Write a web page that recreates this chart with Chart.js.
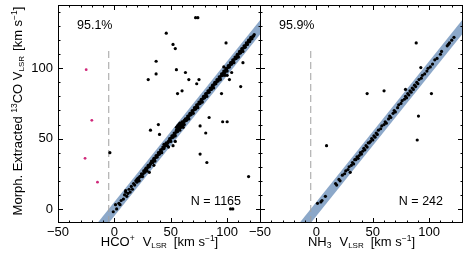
<!DOCTYPE html>
<html>
<head>
<meta charset="utf-8">
<script src="https://cdn.jsdelivr.net/npm/chart.js@4.4.1/dist/chart.umd.min.js"></script>
<style>
  html, body { margin: 0; padding: 0; background: #fff; }
  #wrap { position: relative; width: 464px; height: 262px; overflow: hidden; }
  canvas { position: absolute; top: 0; }
  #hco { left: 0; }
  #nh3 { left: 231px; }
</style>
</head>
<body>
<div id="wrap">
  <canvas id="hco" width="262" height="262"></canvas>
  <canvas id="nh3" width="233" height="262"></canvas>
</div>
<script>
// axes
const xRange = [-50, 130];
const yRange = [-10, 145];
const xTicks = [-50, 0, 50, 100];
const yTicks = [0, 50, 100];
const xMinor = [-40, -30, -20, -10, 10, 20, 30, 40, 60, 70, 80, 90, 110, 120];
const yMinor = [10, 20, 30, 40, 60, 70, 80, 90, 110, 120, 130, 140];

// agreement band (|dv| < bandHalf) and the dashed marker
const bandHalf = 5;
const bandX = [-60, 160];
const dashX = -5;
const dashY = [-10, 115];

// HCO+ panel: points along the 1:1 line
const hcoLine = [
  [-1,-2],[1,3],[2,0],[4,4],[5,3],[6,6],[8,7],[9,10],[10,12],[11,9],[12,11],[13,14],[14,12],[15,16],
  [16,14],[17,18],[18,17],[19,20],[20,19],[20,21],[21,22],[22,20],[23,23],[24,25],[25,23],[26,27],
  [27,26],[28,29],[29,27],[30,31],[31,30],[32,32],[33,34],[34,33],[35,36],[36,34],[37,38],[38,37],
  [39,40],[40,39],[41,42],[42,40],[43,44],[44,43],[44,46],[45,45],[46,47],[47,45],[48,48],[49,50],
  [50,48],[51,52],[52,51],[53,54],[54,52],[55,56],[55,58],[56,55],[56,59],[57,57],[57,60],[58,56],
  [58,61],[59,58],[59,60],[60,59],[60,62],[61,61],[61,58],[62,63],[62,60],[63,64],[64,63],[65,66],
  [66,64],[67,68],[68,67],[69,70],[70,68],[71,72],[72,71],[73,74],[74,72],[75,76],[76,75],[77,78],
  [78,76],[79,80],[80,79],[81,82],[82,80],[83,84],[84,83],[85,86],[86,85],[87,88],[88,86],[89,90],
  [90,89],[91,92],[92,91],[93,94],[94,92],[95,96],[96,95],[97,98],[98,97],[99,100],[100,98],[101,102],
  [102,101],[103,104],[104,103],[105,106],[106,104],[107,108],[108,107],[109,110],[110,108],[111,112],
  [112,111],[113,114],[114,112],[115,116],[116,115],[117,118],[118,117],[119,120],[120,119],[121,122],
  [122,121],[124,124],[35,31],[48,44],[54,48],[10,13],[100,95],[104,97],[97,101],
  [20.5,20],[21.5,21.5],[22.5,23],[23.5,23],[24.5,24.5],[25.5,25],[26.5,26.5],[27.5,28],[28.5,28],
  [29.5,29.5],[30.5,30],[31.5,31.5],[32.5,33],[33.5,33],[34.5,34.5],[35.5,35],[36.5,36.5],[37.5,37],
  [38.5,38.5],[39.5,39],[40.5,40.5],[41.5,41],[42.5,42.5],[43.5,43],[44.5,44.5],[45.5,45],[46.5,46.5],
  [47.5,47],[48.5,48.5],[49.5,49],[50.5,50.5],[51.5,51],[52.5,52.5],[53.5,53],[54.5,54.5],[55.5,55],
  [56.5,57],[57.5,58.5],[58.5,58],[59.5,59.5],[60.5,60],[61.5,62],[62.5,62.5],[63.5,63],[64.5,64.5],
  [65.5,65],[66.5,66.5],[67.5,67],[68.5,68.5],[69.5,69],[70.5,70.5],[71.5,71],[72.5,72.5],[73.5,73],
  [74.5,74.5],[75.5,75],[76.5,76.5],[77.5,77],[78.5,78.5],[79.5,79],[80.5,80.5],[81.5,81],[82.5,82.5],
  [83.5,83],[84.5,84.5],[85.5,85],[86.5,86.5],[87.5,87],[88.5,88.5],[89.5,89],[90.5,90.5],[91.5,91],
  [92.5,92.5],[93.5,93],[94.5,94.5],[95.5,95],[96.5,96.5],[97.5,97],[98.5,98.5],[99.5,99],[100.5,100.5],
  [101.5,101],[102.5,102.5],[103.5,103],[104.5,104.5],[105.5,105],[106.5,106.5],[107.5,107],
  [108.5,108.5],[109.5,109],[110.5,110.5],[111.5,111],[112.5,112.5],[113.5,113],[114.5,114.5],
  [115.5,115],[116.5,116.5],[117.5,117],[118.5,118.5],[119.5,119],[120.5,120.5],[121.5,121],
  [122.5,122.5],[123.5,123]
];
// HCO+ panel: discrepant points
const hcoOff = [
  [72,136],[74,136],[46,125],[52,117],[54,114],[99,118],[37,105],[30,92],[37,96],[55,99],[63,97],
  [66,92],[60,84],[56,82],[73,89],[75,92],[102,92],[98,95],[112,87],[95,82],[76,59],[76,39],[82,33],
  [81,54],[84,65],[96,62],[100,62],[32,56],[39,60],[40,53],[31,26],[-4,40],[103,0],[105,0],[114,104],
  [119,23],[52,45]
];
// HCO+ panel: points left of the dashed line
const hcoNeg = [[-25,99],[-20,63],[-26,36],[-15,19]];

// NH3 panel
const nh3Line = [
  [1,4],[4,5],[5,6],[8,9],[17,18],[18,17],[20,21],[21,20],[23,24],[25,25],[26,27],[28,28],[29,30],
  [31,31],[32,33],[33,32],[34,35],[35,35],[36,37],[37,36],[38,38],[39,40],[40,39],[41,41],[42,43],
  [43,42],[44,45],[45,44],[46,47],[47,47],[48,48],[49,50],[50,49],[51,52],[52,51],[53,54],[54,53],
  [55,56],[57,57],[58,59],[60,60],[61,62],[62,61],[64,64],[65,66],[66,65],[68,68],[69,70],[70,69],
  [72,72],[73,74],[75,75],[76,77],[78,78],[79,80],[80,79],[81,82],[82,81],[83,84],[84,83],[85,86],
  [86,85],[87,88],[88,87],[89,90],[90,89],[91,92],[93,93],[94,95],[96,96],[98,98],[99,100],[101,101],
  [103,103],[105,106],[107,107],[110,110],[111,112],[116,116],[117,117],[118,118],[120,120],[122,122]
];
const nh3Off = [[9,45],[45,82],[60,84],[79,85],[88.5,118],[92.6,100.5],[102,82],[90.5,66],[89.4,49],[30,26]];

const FONT = '"Liberation Sans", Arial, Helvetica, sans-serif';
const BAND = '#8ca8c9';
const PINK = '#d0287a';

function pts(list) {
  return list.map(p => ({ x: p[0], y: p[1] }));
}

// draws text made of pieces of different size / offset (sub- and superscripts)
function drawRich(ctx, segs, cx, baseY) {
  let total = 0;
  segs.forEach(s => {
    ctx.font = s.size + 'px ' + FONT;
    s.w = ctx.measureText(s.t).width;
    total += s.w + (s.gap || 0);
  });
  let x = cx - total / 2;
  ctx.textAlign = 'left';
  ctx.textBaseline = 'alphabetic';
  segs.forEach(s => {
    x += s.gap || 0;
    ctx.font = s.size + 'px ' + FONT;
    ctx.fillText(s.t, x, baseY + (s.dy || 0));
    x += s.w;
  });
}

// box frame with inward ticks on all four sides, plus panel texts
const panelDeco = {
  id: 'panelDeco',
  afterDraw(chart, args, opts) {
    const { ctx, chartArea: a, scales: { x, y } } = chart;
    ctx.save();
    ctx.strokeStyle = '#000';
    ctx.lineWidth = 1;
    ctx.strokeRect(a.left + 0.5, a.top + 0.5, a.right - a.left - 1, a.bottom - a.top - 1);

    ctx.beginPath();
    const tickX = (v, len) => {
      const p = Math.round(x.getPixelForValue(v)) + 0.5;
      ctx.moveTo(p, a.bottom); ctx.lineTo(p, a.bottom - len);
      ctx.moveTo(p, a.top); ctx.lineTo(p, a.top + len);
    };
    const tickY = (v, len) => {
      const p = Math.round(y.getPixelForValue(v)) + 0.5;
      ctx.moveTo(a.left, p); ctx.lineTo(a.left + len, p);
      ctx.moveTo(a.right, p); ctx.lineTo(a.right - len, p);
    };
    xTicks.forEach(v => tickX(v, 5));
    xMinor.forEach(v => tickX(v, 2.5));
    yTicks.forEach(v => tickY(v, 5));
    yMinor.forEach(v => tickY(v, 2.5));
    ctx.stroke();

    ctx.fillStyle = '#000';
    ctx.font = '12.5px ' + FONT;
    ctx.textBaseline = 'middle';
    ctx.textAlign = 'left';
    ctx.fillText(opts.pct, a.left + 19, 26);
    ctx.textAlign = 'right';
    ctx.fillText(opts.n, a.right - 20, a.bottom - 21);

    drawRich(ctx, opts.xTitle, (a.left + a.right) / 2, 246);

    if (opts.yTitle) {
      ctx.translate(22, (a.top + a.bottom) / 2 - 3);
      ctx.rotate(-Math.PI / 2);
      drawRich(ctx, opts.yTitle, 0, 0);
    }
    ctx.restore();
  }
};

function makePanel(id, line, off, neg, yAxisWidth, texts) {
  const datasets = [
    {
      data: bandX.map(v => ({ x: v, y: v - bandHalf })),
      showLine: true, borderWidth: 0, pointRadius: 0, fill: false, order: 10
    },
    {
      data: bandX.map(v => ({ x: v, y: v + bandHalf })),
      showLine: true, borderWidth: 0, pointRadius: 0,
      fill: '-1', backgroundColor: BAND, order: 10
    },
    {
      data: dashY.map(v => ({ x: dashX, y: v })),
      showLine: true, borderColor: '#a0a0a0', borderWidth: 1, borderDash: [7, 4],
      pointRadius: 0, order: 5
    },
    {
      data: pts(line.concat(off)),
      pointRadius: 1.6, pointBorderWidth: 0, pointBackgroundColor: '#000', order: 1
    }
  ];
  if (neg.length) {
    datasets.push({
      data: pts(neg),
      pointRadius: 1.4, pointBorderWidth: 0, pointBackgroundColor: PINK, order: 1
    });
  }

  return new Chart(document.getElementById(id), {
    type: 'scatter',
    data: { datasets: datasets },
    options: {
      responsive: false,
      animation: false,
      events: [],
      layout: { autoPadding: false, padding: { top: 5, right: 1, left: 0, bottom: 0 } },
      plugins: {
        legend: { display: false },
        tooltip: { enabled: false },
        panelDeco: texts
      },
      scales: {
        x: {
          type: 'linear', min: xRange[0], max: xRange[1],
          grid: { display: false, drawTicks: false },
          border: { display: false },
          ticks: {
            color: '#000', padding: 2, includeBounds: false,
            font: { family: FONT, size: 13 },
            maxRotation: 0, autoSkip: false,
            callback: v => String(v).replace('-', '\u2212')
          },
          afterBuildTicks: s => { s.ticks = xTicks.map(v => ({ value: v })); },
          afterFit: s => { s.height = 39; s.paddingLeft = 0; s.paddingRight = 0; }
        },
        y: {
          type: 'linear', min: yRange[0], max: yRange[1],
          grid: { display: false, drawTicks: false },
          border: { display: false },
          ticks: {
            display: yAxisWidth > 40, color: '#000', padding: 5, includeBounds: false,
            font: { family: FONT, size: 13 }
          },
          afterBuildTicks: s => { s.ticks = yTicks.map(v => ({ value: v })); },
          afterFit: s => { s.width = yAxisWidth; s.paddingTop = 0; s.paddingBottom = 0; }
        }
      }
    },
    plugins: [panelDeco]
  });
}

const S = 13, s = 8.5;
makePanel('hco', hcoLine, hcoOff, hcoNeg, 58, {
  pct: '95.1%',
  n: 'N = 1165',
  xTitle: [
    { t: 'HCO', size: S }, { t: '+', size: s, dy: -5 },
    { t: 'V', size: S, gap: 8 }, { t: 'LSR', size: 8, dy: 2 },
    { t: '[km s', size: S, gap: 7 }, { t: '\u22121', size: s, dy: -5 }, { t: ']', size: S }
  ],
  yTitle: [
    { t: 'Morph. Extracted ', size: S }, { t: '13', size: s, dy: -5 },
    { t: 'CO V', size: S }, { t: 'LSR', size: 8, dy: 2 },
    { t: '[km s', size: S, gap: 5 }, { t: '\u22121', size: s, dy: -5 }, { t: ']', size: S }
  ]
});

makePanel('nh3', nh3Line, nh3Off, [], 29, {
  pct: '95.9%',
  n: 'N = 242',
  xTitle: [
    { t: 'NH', size: S }, { t: '3', size: s, dy: 2 },
    { t: 'V', size: S, gap: 8 }, { t: 'LSR', size: 8, dy: 2 },
    { t: '[km s', size: S, gap: 7 }, { t: '\u22121', size: s, dy: -5 }, { t: ']', size: S }
  ]
});
</script>
</body>
</html>
